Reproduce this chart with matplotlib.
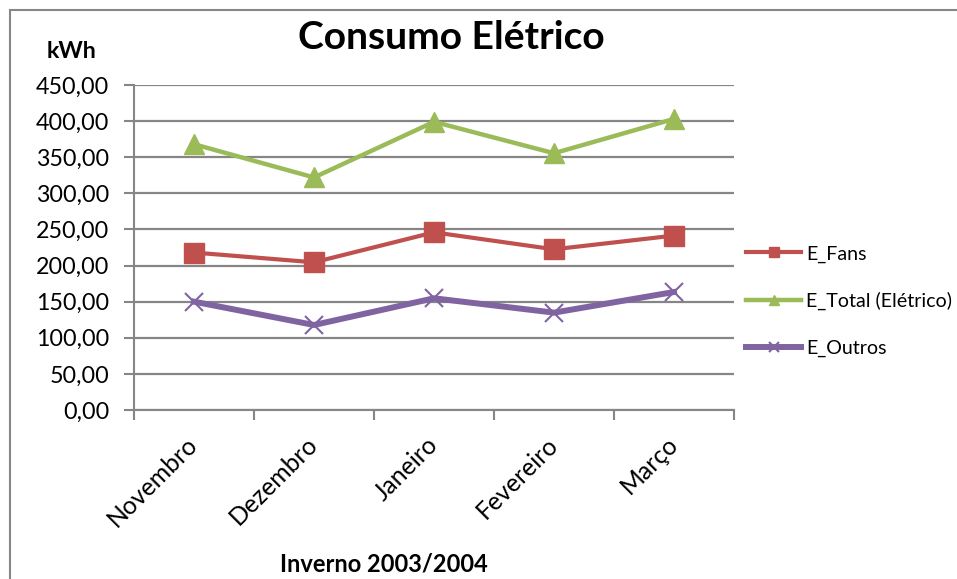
import matplotlib
matplotlib.use("Agg")
import matplotlib.pyplot as plt
import numpy as np
from matplotlib.patches import Rectangle

plt.rcParams['font.family'] = ['Lato', 'DejaVu Sans']

months = ["Novembro", "Dezembro", "Janeiro", "Fevereiro", "Março"]
e_fans = [218, 204.5, 246, 222.5, 241.5]
e_total = [368, 322, 399, 355.5, 403]
e_outros = [150, 117.7, 154.7, 134.8, 163.4]
yticks = [0, 50, 100, 150, 200, 250, 300, 350, 400, 450]

W, H = 957, 579
fig = plt.figure(figsize=(W / 100, H / 100), dpi=100)
fig.patch.set_facecolor('white')
renderer = fig.canvas.get_renderer()


def fit_size(s, target_px, weight='normal', base=20):
    t = fig.text(0, 0, s, fontsize=base, fontweight=weight)
    w = t.get_window_extent(renderer).width
    t.remove()
    return base * target_px / w


fs_title = fit_size("Consumo Elétrico", 307, 'bold')
fs_kwh = fit_size("kWh", 50, 'bold')
fs_xlab = fit_size("Inverno 2003/2004", 208, 'bold')
fs_ytick = fit_size("450,00", 73)
fs_xtick = fit_size("Novembro", 116)
fs_leg = fit_size("E_Total (Elétrico)", 146)

# outer chart-area border
fig.patches.append(Rectangle((10 / W, -0.1), 1.2, 1 - 10 / H + 0.1, transform=fig.transFigure,
                             fill=False, edgecolor='#868686', linewidth=1.5))

ax = fig.add_axes([134 / W, 1 - 410 / H, 600 / W, 325 / H])
x = np.arange(len(months))

ax.plot(x, e_fans, color='#C0504D', lw=3.0, marker='s', ms=14, label='E_Fans', zorder=3)
ax.plot(x, e_total, color='#9BBB59', lw=3.2, marker='^', ms=14, label='E_Total (Elétrico)', zorder=3)
ax.plot(x, e_outros, color='#8064A2', lw=4.3, marker='x', ms=13, mew=1.5, label='E_Outros', zorder=3)

ax.set_xlim(-0.5, len(months) - 0.5)
ax.set_ylim(0, 450)
ax.set_yticks(yticks)
ax.set_yticklabels([f"{v:.2f}".replace('.', ',') for v in yticks], fontsize=fs_ytick)
ax.set_xticks(x)
ax.set_xticklabels(months, rotation=45, ha='right', va='center', rotation_mode='anchor',
                   fontsize=fs_xtick)
ax.set_xticks(np.arange(-0.5, len(months), 1), minor=True)
ax.tick_params(axis='x', which='major', length=0, pad=22)
ax.tick_params(axis='x', which='minor', length=7, width=1.5, color='#868686', direction='out')
ax.tick_params(axis='y', length=7, width=1.5, color='#868686', direction='out', pad=11)

ax.yaxis.grid(True, color='#868686', lw=1.6)
ax.set_axisbelow(True)
for s in ['top', 'right']:
    ax.spines[s].set_visible(False)
for s in ['left', 'bottom']:
    ax.spines[s].set_color('#868686')
    ax.spines[s].set_linewidth(1.5)

fig.text(451 / W, 1 - 49 / H, "Consumo Elétrico", ha='center', va='baseline',
         fontsize=fs_title, fontweight='bold')
fig.text(72 / W, 1 - 58 / H, "kWh", ha='center', va='baseline', fontsize=fs_kwh, fontweight='bold')
fig.text(384 / W, 1 - 572 / H, "Inverno 2003/2004", ha='center', va='baseline',
         fontsize=fs_xlab, fontweight='bold')

fs_leg_px = fs_leg * 100 / 72
leg = ax.legend(loc='center left', bbox_to_anchor=(746 / W, 1 - 301 / H), bbox_transform=fig.transFigure,
                frameon=False, fontsize=fs_leg, labelspacing=(49 - fs_leg_px) / fs_leg_px,
                handlelength=55 / fs_leg_px, handletextpad=5 / fs_leg_px, borderpad=0,
                borderaxespad=0, markerscale=0.55)

fig.savefig("out.png", dpi=100)
